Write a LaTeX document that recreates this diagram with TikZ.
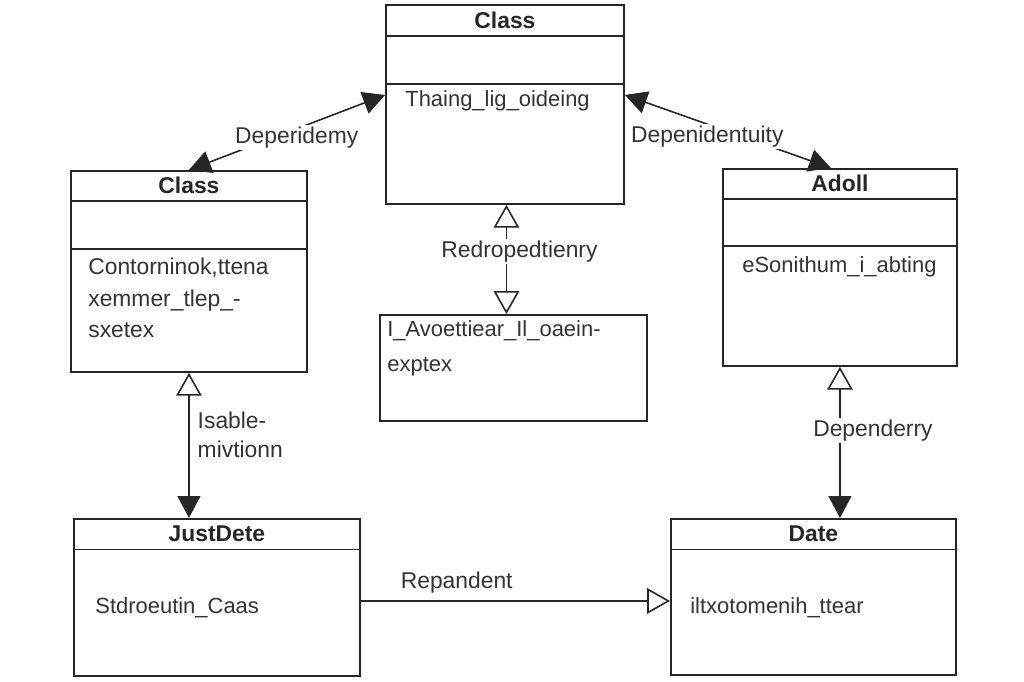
\documentclass[tikz,border=0pt]{standalone}
\usepackage{fontspec}
\setmainfont{Liberation Sans}
\usetikzlibrary{arrows.meta}
\tikzset{
  Fhead/.tip={Triangle[width=13pt,length=12.5pt]},
  Ohead/.tip={Triangle[open,width=14.5pt,length=13pt]}
}
\begin{document}
\begin{tikzpicture}[x=0.02cm, y=-0.02cm,
  box/.style={draw=black!85, line width=1.1pt, anchor=north west, inner sep=0pt},
  sep/.style={draw=black!85, line width=1.1pt},
  head/.style={font=\fontsize{13}{15}\selectfont\bfseries, text=black!85},
  body/.style={anchor=west, align=left, inner sep=0pt, text=black!80},
  lbl/.style={fill=white, inner sep=1pt, font=\fontsize{13}{16}\selectfont, text=black!80},
  conn/.style={draw=black!85, line width=0.9pt}]

\useasboundingbox[fill=white] (0,0) rectangle (1024,682);

\node[box, minimum width=4.76cm, minimum height=3.98cm] (top) at (385,4) {};
\node[box, minimum width=4.72cm, minimum height=4.02cm] (left) at (70,170) {};
\node[box, minimum width=4.68cm, minimum height=3.94cm] (right) at (722,168) {};
\node[box, minimum width=5.34cm, minimum height=2.12cm] (mid) at (379,314) {};
\node[box, minimum width=5.72cm, minimum height=3.14cm] (jd) at (73,518) {};
\node[box, minimum width=5.70cm, minimum height=3.12cm] (date) at (670,518) {};

\draw[sep] ([yshift=-0.64cm]top.north west) -- ([yshift=-0.64cm]top.north east);
\draw[sep] ([yshift=-1.60cm]top.north west) -- ([yshift=-1.60cm]top.north east);
\draw[sep] ([yshift=-0.62cm]left.north west) -- ([yshift=-0.62cm]left.north east);
\draw[sep] ([yshift=-1.58cm]left.north west) -- ([yshift=-1.58cm]left.north east);
\draw[sep] ([yshift=-0.62cm]right.north west) -- ([yshift=-0.62cm]right.north east);
\draw[sep] ([yshift=-1.56cm]right.north west) -- ([yshift=-1.56cm]right.north east);
\draw[sep] ([yshift=-0.63cm]jd.north west) -- ([yshift=-0.63cm]jd.north east);
\draw[sep] ([yshift=-0.63cm]date.north west) -- ([yshift=-0.63cm]date.north east);

\node[head] (topname) at ([yshift=-0.32cm]top.north) {Class};
\node[head] (leftname) at ([yshift=-0.31cm]left.north) {Class};
\node[head] (rightname) at ([yshift=-0.31cm]right.north) {Adoll};
\node[head] (jdname) at ([yshift=-0.31cm]jd.north) {JustDete};
\node[head] (datename) at ([yshift=-0.31cm]date.north) {Date};

\node[body, font=\fontsize{12.5}{15}\selectfont] (topbody) at (405,101) {Thaing\_lig\_oideing};
\node[body, font=\fontsize{13}{18}\selectfont] (leftbody) at (88,298) {Contorninok,ttena\\xemmer\_tlep\_-\\sxetex};
\node[body, font=\fontsize{12.5}{15}\selectfont] (rightbody) at (742,267) {eSonithum\_i\_abting};
\node[body, font=\fontsize{12.5}{20}\selectfont] (midbody) at (387,348) {I\_Avoettiear\_Il\_oaein-\\exptex};
\node[body, font=\fontsize{12.5}{15}\selectfont] (jdbody) at (95,608) {Stdroeutin\_Caas};
\node[body, font=\fontsize{12.5}{15}\selectfont] (datebody) at (690,608) {iltxotomenih\_ttear};

\draw[conn, Fhead-Fhead] (left.north) -- node[lbl, pos=0.55, yshift=-5pt] (dep1) {Deperidemy} ([yshift=-1.82cm]top.north west);
\draw[conn, Fhead-Fhead] ([yshift=-1.82cm]top.north east) -- node[lbl, pos=0.4, yshift=-7pt] (dep2) {Depenidentuity} ([xshift=-0.18cm]right.north);
\draw[conn, Ohead-Ohead] ([xshift=0.03cm]top.south) -- node[lbl, pos=0.43, xshift=0.26cm] (redro) {Redropedtienry} ([xshift=0.03cm]top.south |- mid.north);
\draw[conn, Ohead-Fhead] (left.south) -- node[pos=0.43, anchor=west, xshift=0.16cm, inner sep=0pt, align=left, font=\fontsize{13}{16.5}\selectfont, text=black!80] (isab) {Isable-\\mivtionn} (left.south |- jd.north);
\draw[conn, Ohead-Fhead] (right.south) -- node[lbl, pos=0.42, xshift=0.66cm] (dep3) {Dependerry} (right.south |- date.north);
\draw[conn, -Ohead] ([yshift=-0.07cm]jd.east) -- node[lbl, pos=0.31, above, yshift=3pt, fill=none] (repa) {Repandent} ([yshift=-0.07cm]jd.east -| date.west);

\end{tikzpicture}
\end{document}
